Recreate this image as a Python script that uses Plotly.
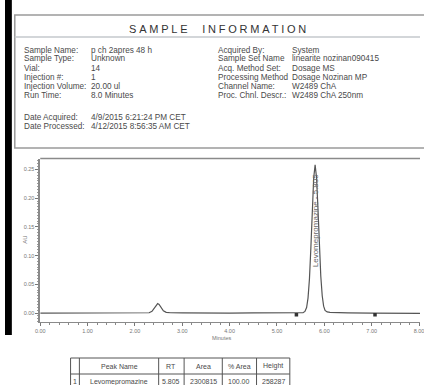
import plotly.graph_objects as go

# ---------------- data ----------------
time_min = [0.00, 0.50, 1.00, 1.50, 2.00, 2.30, 2.36, 2.41, 2.45, 2.48, 2.51, 2.55, 2.60, 2.66, 2.75,
            3.00, 3.50, 4.00, 4.50, 5.00, 5.40, 5.55, 5.59, 5.625, 5.655, 5.685, 5.715, 5.745, 5.775,
            5.805, 5.835, 5.865, 5.895, 5.925, 5.955, 5.985, 6.015, 6.06, 6.12, 6.25, 6.50, 7.00,
            7.50, 8.02]
absorb_au = [0.0000, 0.0001, 0.0003, 0.0002, 0.0003, 0.0005, 0.0030, 0.0090, 0.0145, 0.0165, 0.0150,
             0.0095, 0.0040, 0.0012, 0.0005, 0.0002, -0.0003, 0.0000, 0.0002, 0.0000, -0.0003,
             0.0005, 0.0028, 0.0095, 0.0260, 0.0590, 0.1130, 0.1790, 0.2350, 0.2580, 0.2360,
             0.1820, 0.1180, 0.0640, 0.0300, 0.0120, 0.0045, 0.0020, 0.0012, 0.0008, 0.0004,
             0.0000, -0.0003, -0.0005]

baseline_mark_t = [5.41, 7.07]
baseline_mark_y = [-0.003, -0.003]

peak_name = "Levomepromazine"
peak_rt = 5.805
peak_label_y = 0.160

y_ticks = [0.00, 0.05, 0.10, 0.15, 0.20, 0.25]
x_ticks = [0, 1, 2, 3, 4, 5, 6, 7, 8]

info_left_labels = ["Sample Name:", "Sample Type:", "Vial:", "Injection #:", "Injection Volume:",
                    "Run Time:", "Date Acquired:", "Date Processed:"]
info_left_values = ["p ch 2apres 48 h", "Unknown", "14", "1", "20.00 ul", "8.0 Minutes",
                    "4/9/2015 6:21:24 PM CET", "4/12/2015 8:56:35 AM CET"]
info_right_labels = ["Acquired By:", "Sample Set Name", "Acq. Method Set:", "Processing Method",
                     "Channel Name:", "Proc. Chnl. Descr.:"]
info_right_values = ["System", "linearite nozinan090415", "Dosage MS", "Dosage Nozinan MP",
                     "W2489 ChA", "W2489 ChA 250nm"]

table_header = ["", "Peak Name", "RT", "Area", "% Area", "Height"]
table_row1 = ["1", "Levomepromazine", "5.805", "2300815", "100.00", "258287"]

# ---------------- layout helpers ----------------
W, H = 424, 385
def px(x):
    return x / W
def py(y):
    return 1 - y / H

TXT = "#4a4a4a"
FONT = "Liberation Sans, Arial, sans-serif"
INFO_SIZE = 8.2

fig = go.Figure()
fig.add_trace(go.Scatter(x=time_min, y=absorb_au, mode="lines",
                         line=dict(color="#555555", width=1.2), hoverinfo="skip"))
fig.add_trace(go.Scatter(x=baseline_mark_t, y=baseline_mark_y, mode="markers",
                         marker=dict(symbol="square", size=3.5, color="#333333"), hoverinfo="skip"))

shapes = []
annotations = []

# black bar on the left
shapes.append(dict(type="rect", xref="paper", yref="paper", x0=px(0), x1=px(7), y0=py(335), y1=py(0),
                   fillcolor="black", line=dict(width=0)))
# info box
shapes.append(dict(type="rect", xref="paper", yref="paper", x0=px(10), x1=px(430), y0=py(148), y1=py(15),
                   fillcolor="rgba(0,0,0,0)", line=dict(color="#9a9a9a", width=1.5)))
shapes.append(dict(type="line", xref="paper", yref="paper", x0=px(10), x1=px(424), y0=py(37), y1=py(37),
                   line=dict(color="#c4c8cc", width=1.5)))
annotations.append(dict(xref="paper", yref="paper", x=px(219), y=py(29), showarrow=False,
                        text='<span style="letter-spacing:2.8px">SAMPLE  INFORMATION</span>',
                        font=dict(family=FONT, size=11, color="#333333"),
                        xanchor="center", yanchor="middle"))

left_y = [50, 59, 68.5, 77.5, 86.5, 95.5, 117.5, 126.5]
for lab, val, yy in zip(info_left_labels, info_left_values, left_y):
    annotations.append(dict(xref="paper", yref="paper", x=px(17), y=py(yy), text=lab, showarrow=False,
                            xanchor="left", yanchor="middle", font=dict(family=FONT, size=INFO_SIZE, color=TXT)))
    annotations.append(dict(xref="paper", yref="paper", x=px(86), y=py(yy), text=val, showarrow=False,
                            xanchor="left", yanchor="middle", font=dict(family=FONT, size=INFO_SIZE, color=TXT)))
right_y = [50, 59, 68.5, 77.5, 86.5, 95.5]
for lab, val, yy in zip(info_right_labels, info_right_values, right_y):
    annotations.append(dict(xref="paper", yref="paper", x=px(216), y=py(yy), text=lab, showarrow=False,
                            xanchor="left", yanchor="middle", font=dict(family=FONT, size=INFO_SIZE, color=TXT)))
    annotations.append(dict(xref="paper", yref="paper", x=px(291), y=py(yy), text=val, showarrow=False,
                            xanchor="left", yanchor="middle", font=dict(family=FONT, size=INFO_SIZE, color=TXT)))

# plot top border
shapes.append(dict(type="line", xref="paper", yref="paper", x0=px(36), x1=px(424), y0=py(158.5), y1=py(158.5),
                   line=dict(color="#8a8a8a", width=1.5)))

# peak label (vertical)
annotations.append(dict(x=peak_rt, y=peak_label_y, xref="x", yref="y",
                        text=f"{peak_name} - {peak_rt:.3f}", textangle=-90, showarrow=False,
                        font=dict(family=FONT, size=8, color="#666666"),
                        xanchor="center", yanchor="middle"))

# axis titles
annotations.append(dict(xref="paper", yref="paper", x=px(15), y=py(240), text="AU", textangle=-90,
                        showarrow=False, font=dict(family=FONT, size=6, color="#777777")))
annotations.append(dict(xref="paper", yref="paper", x=px(222), y=py(343), text="Minutes",
                        showarrow=False, font=dict(family=FONT, size=5.5, color="#777777")))

# table
col_x = [67, 76, 157, 183, 222, 257, 291]
row_y = [358, 374, 392]
for yy in row_y:
    shapes.append(dict(type="line", xref="paper", yref="paper", x0=px(col_x[0]), x1=px(col_x[-1]),
                       y0=py(yy), y1=py(yy), line=dict(color="#555555", width=1)))
for xx in col_x:
    shapes.append(dict(type="line", xref="paper", yref="paper", x0=px(xx), x1=px(xx),
                       y0=py(row_y[-1]), y1=py(row_y[0]), line=dict(color="#555555", width=1)))
for i, (h, r) in enumerate(zip(table_header, table_row1)):
    cx = (col_x[i] + col_x[i + 1]) / 2
    annotations.append(dict(xref="paper", yref="paper", x=px(cx), y=py(366), text=h, showarrow=False,
                            xanchor="center", yanchor="middle", font=dict(family=FONT, size=7, color=TXT)))
    annotations.append(dict(xref="paper", yref="paper", x=px(cx), y=py(381.5), text=r, showarrow=False,
                            xanchor="center", yanchor="middle", font=dict(family=FONT, size=7, color=TXT)))

fig.update_layout(
    width=W, height=H, margin=dict(l=0, r=0, t=0, b=0),
    paper_bgcolor="white", plot_bgcolor="white", showlegend=False,
    shapes=shapes, annotations=annotations,
    xaxis=dict(domain=[px(36), 1], range=[0, 8.02], tickvals=x_ticks,
               ticktext=[f"{v:.2f}" for v in x_ticks], showgrid=False, zeroline=False,
               showline=True, linecolor="#8a8a8a", linewidth=1.2, ticks="outside", ticklen=3,
               tickcolor="#777777", tickfont=dict(family=FONT, size=5.5, color="#777777"),
               ticklabeloverflow="allow",
               minor=dict(dtick=0.2, ticks="outside", ticklen=2, tickcolor="#888888")),
    yaxis=dict(domain=[py(322), py(158.5)], range=[-0.0156, 0.269], tickvals=y_ticks,
               ticktext=[f"{v:.2f}" for v in y_ticks], showgrid=False, zeroline=False,
               showline=True, linecolor="#8a8a8a", linewidth=1.5, ticks="outside", ticklen=3,
               tickcolor="#777777", tickfont=dict(family=FONT, size=5.5, color="#777777"),
               minor=dict(dtick=0.005, ticks="outside", ticklen=1.5, tickcolor="#999999")),
)

fig.write_html("out.html", config={"displayModeBar": False},
               post_script="document.body.style.margin='0';")
